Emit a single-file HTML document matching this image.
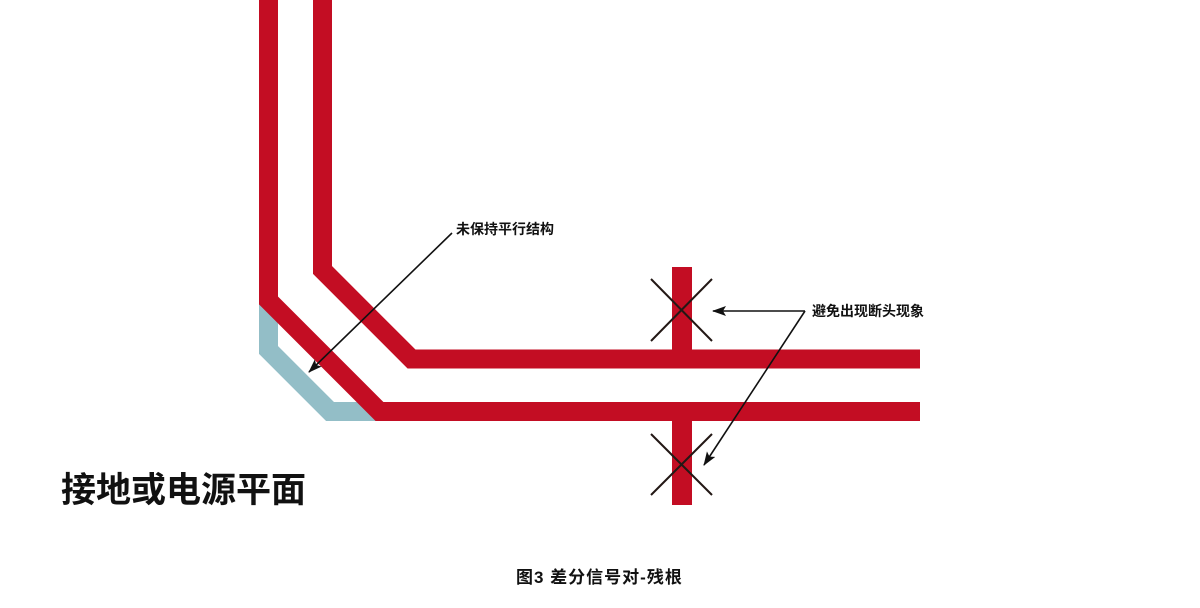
<!DOCTYPE html>
<html><head><meta charset="utf-8"><style>
html,body{margin:0;padding:0;background:#fff;}
svg{display:block}
text{font-family:"Liberation Sans","Noto Sans CJK SC",sans-serif;font-weight:bold;fill:#111}
</style></head><body>
<svg width="1200" height="608" viewBox="0 0 1200 608" xmlns="http://www.w3.org/2000/svg">
<defs>
<marker id="ah" viewBox="0 0 14 10" refX="13" refY="5" markerWidth="14" markerHeight="10" orient="auto" markerUnits="userSpaceOnUse">
<path d="M0,0 L14,5 L0,10 L3,5 z" fill="#111"/>
</marker>
</defs>
<polyline points="268.5,300 268.5,350 330,411.5 385,411.5" fill="none" stroke="#93bec7" stroke-width="19" stroke-linejoin="miter"/>
<polyline points="268.5,0 268.5,300.5 379.5,411.5 920,411.5" fill="none" stroke="#c30d23" stroke-width="19" stroke-linejoin="miter"/>
<polyline points="322.5,0 322.5,270 411.5,359 920,359" fill="none" stroke="#c30d23" stroke-width="19" stroke-linejoin="miter"/>
<rect x="672" y="267" width="20" height="85" fill="#c30d23"/>
<rect x="672" y="418" width="20" height="87" fill="#c30d23"/>
<g stroke="#231815" stroke-width="2">
<line x1="651" y1="279" x2="712" y2="341"/><line x1="712" y1="279" x2="651" y2="341"/>
<line x1="651" y1="434" x2="712" y2="495"/><line x1="712" y1="434" x2="651" y2="495"/>
</g>
<g stroke="#111" stroke-width="1.6" fill="none">
<line x1="452" y1="233" x2="309" y2="372" marker-end="url(#ah)"/>
<line x1="805" y1="311" x2="713" y2="311" marker-end="url(#ah)"/>
<line x1="805" y1="311" x2="704" y2="465" marker-end="url(#ah)"/>
</g>
<text x="456" y="234" font-size="14">未保持平行结构</text>
<text x="812" y="316" font-size="14">避免出现断头现象</text>
<text x="61" y="502" font-size="35">接地或电源平面</text>
<text x="516" y="583" font-size="17" letter-spacing="1">图3 差分信号对-残根</text>
</svg>
</body></html>
